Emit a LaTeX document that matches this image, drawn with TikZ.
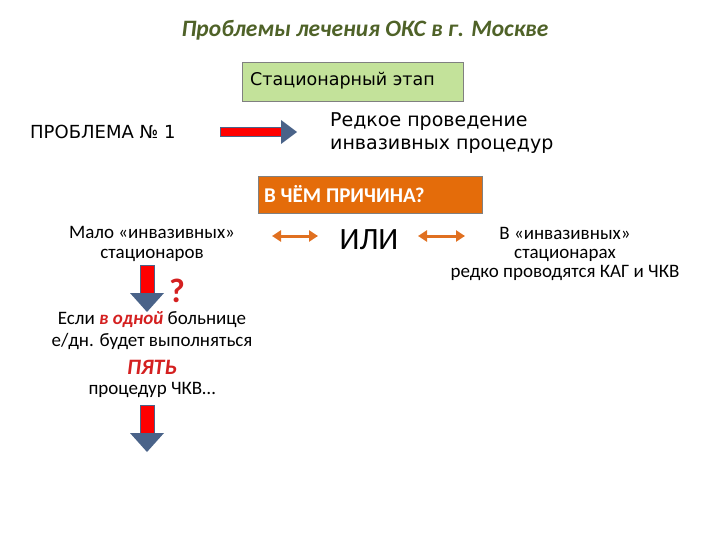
\documentclass[tikz,border=0pt]{standalone}
\usepackage{fontspec}
\usetikzlibrary{arrows.meta}
\setmainfont{Carlito}
\newfontfamily\dvs{DejaVu Sans}
\definecolor{titlec}{HTML}{4F6228}
\definecolor{greenf}{HTML}{C3E29A}
\definecolor{orangef}{HTML}{E46C0A}
\definecolor{orangea}{HTML}{E07020}
\definecolor{headc}{HTML}{4A6389}
\definecolor{redc}{HTML}{D42020}
\tikzset{
  px/.style={x=1pt,y=-1pt},
  txt/.style={inner sep=0pt,align=center},
  dbl/.style={draw=orangea,line width=3pt,{Triangle[length=9pt,width=11pt]}-{Triangle[length=9pt,width=11pt]}},
}
\begin{document}
\begin{tikzpicture}[px]
\useasboundingbox (0,0) rectangle (720,540);
\node[txt,font=\bfseries\itshape\fontsize{23.5}{28}\selectfont,text=titlec] (title) at (365,30) {Проблемы лечения ОКС в г. Москве};
\node[draw=gray,fill=greenf,minimum width=221pt,minimum height=39pt,inner sep=0pt] (stage) at (352.5,81.5) {};
\node[anchor=west,inner sep=0pt,font=\dvs\fontsize{17.5}{20}\selectfont] (stagetxt) at (250,81) {Стационарный этап};
\node[anchor=west,inner sep=0pt,font=\dvs\fontsize{18}{21}\selectfont] (prob) at (30,132) {ПРОБЛЕМА № 1};
\fill[red,draw=headc,line width=0.6pt] (220,127.5) rectangle (282,136.5);
\fill[headc] (281,120) -- (297,132) -- (281,144) -- cycle;
\node[anchor=west,inner sep=0pt,align=left,font=\dvs\fontsize{19}{23}\selectfont] (rare) at (330,133) {Редкое проведение\\инвазивных процедур};
\node[draw=gray,fill=orangef,minimum width=224pt,minimum height=37pt,inner sep=0pt] (why) at (370,194.5) {};
\node[anchor=west,inner sep=0pt,text=white,font=\bfseries\fontsize{21}{24}\selectfont] (whytxt) at (264,194) {В ЧЁМ ПРИЧИНА?};
\node[txt,font=\fontsize{19}{19.5}\selectfont] (few) at (152,244) {Мало «инвазивных»\\стационаров};
\node[txt,font=\fontsize{31}{33}\selectfont] (ili) at (369,240) {ИЛИ};
\node[txt,font=\fontsize{19}{19}\selectfont] (right) at (565,254) {В «инвазивных»\\стационарах\\редко проводятся КАГ и ЧКВ};
\coordinate (l1) at (272,236); \coordinate (l2) at (318,236);
\coordinate (r1) at (418,236); \coordinate (r2) at (465,236);
\draw[dbl] (l1) -- (l2);
\draw[dbl] (r1) -- (r2);
\foreach \y in {265,405}{
  \fill[red,draw=headc,line width=0.6pt] (140,\y) rectangle (154,\y+29);
  \fill[headc] (130,\y+28) -- (164,\y+28) -- (147,\y+47) -- cycle;
}
\node[txt,text=redc,font=\bfseries\fontsize{34}{36}\selectfont] (q) at (177,291) {?};
\node[txt,font=\fontsize{19}{22}\selectfont] (if) at (152,331) {Если \textcolor{redc}{\textbf{\textit{в одной}}} больнице\\е/дн. будет выполняться};
\node[txt,text=redc,font=\bfseries\itshape\fontsize{22}{24}\selectfont] (five) at (152,367) {ПЯТЬ};
\node[txt,font=\fontsize{19}{20}\selectfont] (proc) at (152,390) {процедур ЧКВ…};
\end{tikzpicture}
\end{document}
